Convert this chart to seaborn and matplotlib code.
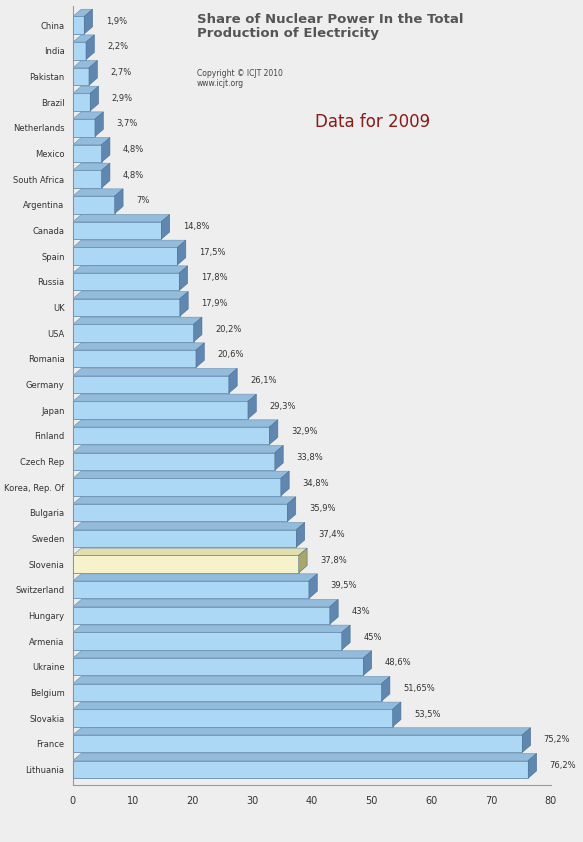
import matplotlib
matplotlib.use("Agg")
import matplotlib.pyplot as plt
import seaborn as sns
import pandas as pd

countries = ["China", "India", "Pakistan", "Brazil", "Netherlands", "Mexico", "South Africa",
             "Argentina", "Canada", "Spain", "Russia", "UK", "USA", "Romania", "Germany", "Japan",
             "Finland", "Czech Rep", "Korea, Rep. Of", "Bulgaria", "Sweden", "Slovenia",
             "Switzerland", "Hungary", "Armenia", "Ukraine", "Belgium", "Slovakia", "France",
             "Lithuania"]
shares = [1.9, 2.2, 2.7, 2.9, 3.7, 4.8, 4.8, 7, 14.8, 17.5, 17.8, 17.9, 20.2, 20.6, 26.1, 29.3,
          32.9, 33.8, 34.8, 35.9, 37.4, 37.8, 39.5, 43, 45, 48.6, 51.65, 53.5, 75.2, 76.2]
labels = ["1,9%", "2,2%", "2,7%", "2,9%", "3,7%", "4,8%", "4,8%", "7%", "14,8%", "17,5%", "17,8%",
          "17,9%", "20,2%", "20,6%", "26,1%", "29,3%", "32,9%", "33,8%", "34,8%", "35,9%", "37,4%",
          "37,8%", "39,5%", "43%", "45%", "48,6%", "51,65%", "53,5%", "75,2%", "76,2%"]
highlight = "Slovenia"

df = pd.DataFrame({"country": countries, "share": shares})

sns.set_style("white")
fig = plt.figure(figsize=(5.83, 8.42), dpi=100, facecolor="#eeeeee")
ax = fig.add_axes([0.125, 0.068, 0.82, 0.925])
ax.set_facecolor("#eeeeee")

palette = ["#f6f3cc" if c == highlight else "#acd8f5" for c in countries]
sns.barplot(data=df, y="country", x="share", hue="country", palette=palette, legend=False,
            orient="h", width=0.68, saturation=1, edgecolor="#6a8fb0", linewidth=0.6, ax=ax,
            zorder=3)

# 3D depth faces
dx, dy, h = 1.4, 0.28, 0.34
for i, (c, v) in enumerate(zip(countries, shares)):
    top = "#93bcdc" if c != highlight else "#e2dfae"
    side = "#5f87af" if c != highlight else "#a8a66a"
    ax.fill([0, v, v + dx, dx], [i - h, i - h, i - h - dy, i - h - dy], color=top,
            ec="#6a8fb0", lw=0.4, zorder=2)
    ax.fill([v, v + dx, v + dx, v], [i - h, i - h - dy, i + h - dy, i + h], color=side,
            ec="#4a6f95", lw=0.4, zorder=4)
    ax.text(v + dx + 2.2, i - 0.15, labels[i], fontsize=6, va="center", color="#333333")

ax.set_xlim(0, 80)
ax.set_ylim(len(countries) - 0.4, -0.75)
ax.set_xticks(range(0, 81, 10))
ax.tick_params(axis="x", labelsize=7, colors="#333333", length=0, pad=8)
ax.tick_params(axis="y", labelsize=6, colors="#333333", length=0, pad=6)
ax.set_xlabel("")
ax.set_ylabel("")
for s in ["top", "right"]:
    ax.spines[s].set_visible(False)
ax.spines["left"].set_color("#999999")
ax.spines["bottom"].set_color("#999999")

fig.text(0.338, 0.985, "Share of Nuclear Power In the Total\nProduction of Electricity",
         fontsize=9.5, fontweight="bold", color="#555555", va="top", linespacing=1.1)
fig.text(0.338, 0.918, "Copyright © ICJT 2010\nwww.icjt.org", fontsize=5.5, color="#444444",
         va="top")
fig.text(0.54, 0.855, "Data for 2009", fontsize=12, color="#8b1a1a", va="center")

fig.savefig("out.png", dpi=100, facecolor=fig.get_facecolor())
